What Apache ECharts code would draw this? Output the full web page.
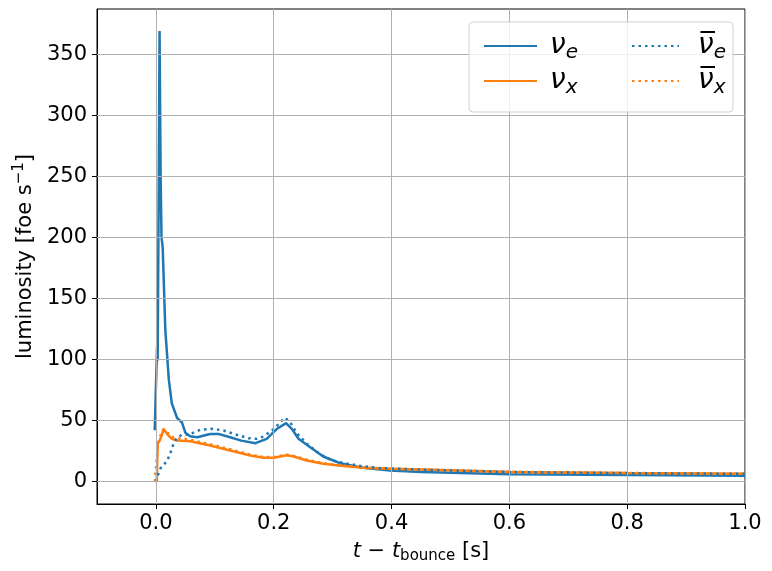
<!DOCTYPE html>
<html>
<head>
<meta charset="utf-8">
<script src="https://cdn.jsdelivr.net/npm/echarts@6/dist/echarts.min.js"></script>
<style>
  html, body { margin: 0; padding: 0; background: #fff; }
  #chart { width: 772px; height: 571px; }
</style>
</head>
<body>
<div id="chart"></div>
<script>
// neutrino luminosities vs time after bounce
var xTicks = [0.0, 0.2, 0.4, 0.6, 0.8, 1.0];
var yTicks = [0, 50, 100, 150, 200, 250, 300, 350];

// nu_e (solid blue)
var tNuE = [-0.002, 0.002, 0.003, 0.0045, 0.0062, 0.008, 0.0095, 0.0115, 0.016, 0.022, 0.027, 0.036, 0.044, 0.05, 0.058, 0.07, 0.092, 0.106, 0.126, 0.145, 0.169, 0.188, 0.205, 0.221, 0.231, 0.242, 0.262, 0.284, 0.313, 0.352, 0.397, 0.45, 0.6, 0.8, 1.0];
var lNuE = [42, 111, 99, 220, 369, 250, 200, 192, 124, 83, 64, 52, 48.6, 40, 37, 36.3, 39, 39, 36.3, 33.5, 31.4, 35, 43, 47.8, 43, 35, 28, 20.5, 15, 11.2, 9, 7.8, 6.0, 5.3, 4.7];

// anti nu_e (dotted blue)
var tNuEBar = [0.0, 0.004, 0.008, 0.014, 0.02, 0.025, 0.03, 0.036, 0.045, 0.056, 0.075, 0.095, 0.115, 0.132, 0.157, 0.171, 0.183, 0.2, 0.211, 0.219, 0.228, 0.239, 0.256, 0.276, 0.299, 0.321, 0.347, 0.38, 0.42, 0.46, 0.6, 0.8, 1.0];
var lNuEBar = [0, 6, 11, 14, 18, 24, 31, 36, 38.5, 38.5, 42.3, 43.2, 41.8, 39, 35.5, 35, 36.9, 43, 48.6, 52.2, 48.6, 39.6, 31, 23.2, 17.2, 15, 12.8, 11, 10.4, 9.6, 7.8, 6.9, 6.3];

// nu_x (solid orange)
var tNuX = [-0.002, 0.0015, 0.003, 0.0065, 0.01, 0.013, 0.02, 0.027, 0.036, 0.058, 0.092, 0.126, 0.16, 0.183, 0.2, 0.222, 0.234, 0.256, 0.284, 0.318, 0.352, 0.397, 0.465, 0.6, 0.8, 1.0];
var lNuX = [0.5, 0.5, 31, 33.6, 38, 43, 38.5, 35, 33.6, 33, 29.5, 25.4, 21.3, 19.4, 19.4, 21.6, 20.5, 17.2, 14.5, 12.8, 11.2, 10.4, 9.6, 7.8, 6.9, 6.3];

// anti nu_x (dotted orange)
var tNuXBar = [-0.002, 0.001, 0.003, 0.006, 0.01, 0.013, 0.02, 0.03, 0.045, 0.06, 0.092, 0.126, 0.16, 0.183, 0.2, 0.222, 0.234, 0.256, 0.284, 0.318, 0.352, 0.397, 0.465, 0.6, 0.8, 1.0];
var lNuXBar = [0, 0.5, 28, 36, 40, 43, 40, 36, 35, 34, 30.5, 26.5, 22, 20, 20, 22, 21, 18, 15, 13, 11.5, 10.5, 9.8, 8.0, 7.0, 6.3];

function pairs(t, l) {
  return t.map(function (v, i) { return [v, l[i]]; });
}

var blue = '#1f77b4', orange = '#ff7f0e';
var font = 'DejaVu Sans';
var dots = [2.5, 4];

var legendNames = {
  nue: '{i|ν}{s|e}',
  nux: '{i|ν}{s|x}',
  nuebar: '{i|ν\u0305}{s|e}',
  nuxbar: '{i|ν\u0305}{s|x}'
};
var legendRich = {
  i: { fontFamily: font, fontStyle: 'italic', fontSize: 28, color: '#000' },
  s: { fontFamily: font, fontStyle: 'italic', fontSize: 20, color: '#000', verticalAlign: 'bottom', padding: [14, 0, 0, 0] }
};

var chart = echarts.init(document.getElementById('chart'));

var gridMarks = xTicks.map(function (v) { return { xAxis: v }; })
  .concat(yTicks.map(function (v) { return { yAxis: v }; }));

function lineSeries(name, data, color, dashed) {
  return {
    name: name,
    type: 'line',
    data: data,
    symbol: 'none',
    z: 2,
    animation: false,
    lineStyle: { color: color, width: 2.5, type: dashed ? dots : 'solid', cap: 'butt' },
    itemStyle: { color: color }
  };
}

chart.setOption({
  animation: false,
  grid: {
    left: 97, right: 27, top: 9, bottom: 67,
    show: true, borderColor: '#000', borderWidth: 1, backgroundColor: 'transparent'
  },
  xAxis: {
    type: 'value',
    min: -0.1,
    max: 1.0,
    name: '{it|t} − {it|t}{sub|bounce} [s]',
    nameLocation: 'middle',
    nameGap: 35,
    nameTextStyle: {
      fontFamily: font, fontSize: 21, color: '#000',
      rich: {
        it: { fontFamily: font, fontStyle: 'italic', fontSize: 21, color: '#000' },
        sub: { fontFamily: font, fontSize: 15, color: '#000', verticalAlign: 'bottom', padding: [10, 0, 0, 0] }
      }
    },
    axisLine: { show: true, onZero: false, lineStyle: { color: '#000', width: 1 } },
    axisTick: { show: true, length: 5, customValues: xTicks, lineStyle: { color: '#000' } },
    axisLabel: {
      customValues: xTicks, margin: 9, fontFamily: font, fontSize: 21, color: '#000',
      formatter: function (v) { return v.toFixed(1); }
    },
    splitLine: { show: false }
  },
  yAxis: {
    type: 'value',
    min: -18.4,
    max: 387,
    name: '{n|luminosity [foe s}{sup|−1}{n|]}',
    nameLocation: 'middle',
    nameRotate: 90,
    nameGap: 58,
    nameTextStyle: {
      rich: {
        n: { fontFamily: font, fontSize: 21, color: '#000' },
        sup: { fontFamily: font, fontSize: 15, color: '#000', verticalAlign: 'top', padding: [0, 0, 12, 0] }
      }
    },
    axisLine: { show: true, onZero: false, lineStyle: { color: '#000', width: 1 } },
    axisTick: { show: true, length: 5, customValues: yTicks, lineStyle: { color: '#000' } },
    axisLabel: { customValues: yTicks, margin: 10, fontFamily: font, fontSize: 21, color: '#000' },
    splitLine: { show: false }
  },
  graphic: [{
    type: 'rect',
    z: 50,
    shape: { x: 469, y: 22, width: 264, height: 90, r: 4 },
    style: { fill: 'rgba(255,255,255,0.8)', stroke: '#d0d0d0', lineWidth: 1 }
  }],
  legend: [{
    data: ['nue', 'nux'],
    orient: 'vertical',
    left: 478, top: 27,
    itemWidth: 53, itemHeight: 14, itemGap: 4,
    z: 60,
    itemStyle: { opacity: 0, borderWidth: 0 },
    formatter: function (n) { return legendNames[n]; },
    textStyle: { rich: legendRich, padding: [0, 0, 0, 8] }
  }, {
    data: ['nuebar', 'nuxbar'],
    orient: 'vertical',
    left: 626, top: 27,
    itemWidth: 47, itemHeight: 14, itemGap: 4,
    z: 60,
    itemStyle: { opacity: 0, borderWidth: 0 },
    formatter: function (n) { return legendNames[n]; },
    textStyle: { rich: legendRich, padding: [0, 0, 0, 14] }
  }],
  series: [
    {
      name: 'grid',
      type: 'line',
      data: [[0, 0]],
      symbol: 'none',
      z: 1,
      lineStyle: { width: 0 },
      silent: true,
      markLine: {
        silent: true,
        symbol: 'none',
        animation: false,
        label: { show: false },
        lineStyle: { color: '#b0b0b0', width: 1, type: 'solid' },
        data: gridMarks
      }
    },
    lineSeries('nue', pairs(tNuE, lNuE), blue, false),
    lineSeries('nux', pairs(tNuX, lNuX), orange, false),
    lineSeries('nuebar', pairs(tNuEBar, lNuEBar), blue, true),
    lineSeries('nuxbar', pairs(tNuXBar, lNuXBar), orange, true)
  ]
});
</script>
</body>
</html>
